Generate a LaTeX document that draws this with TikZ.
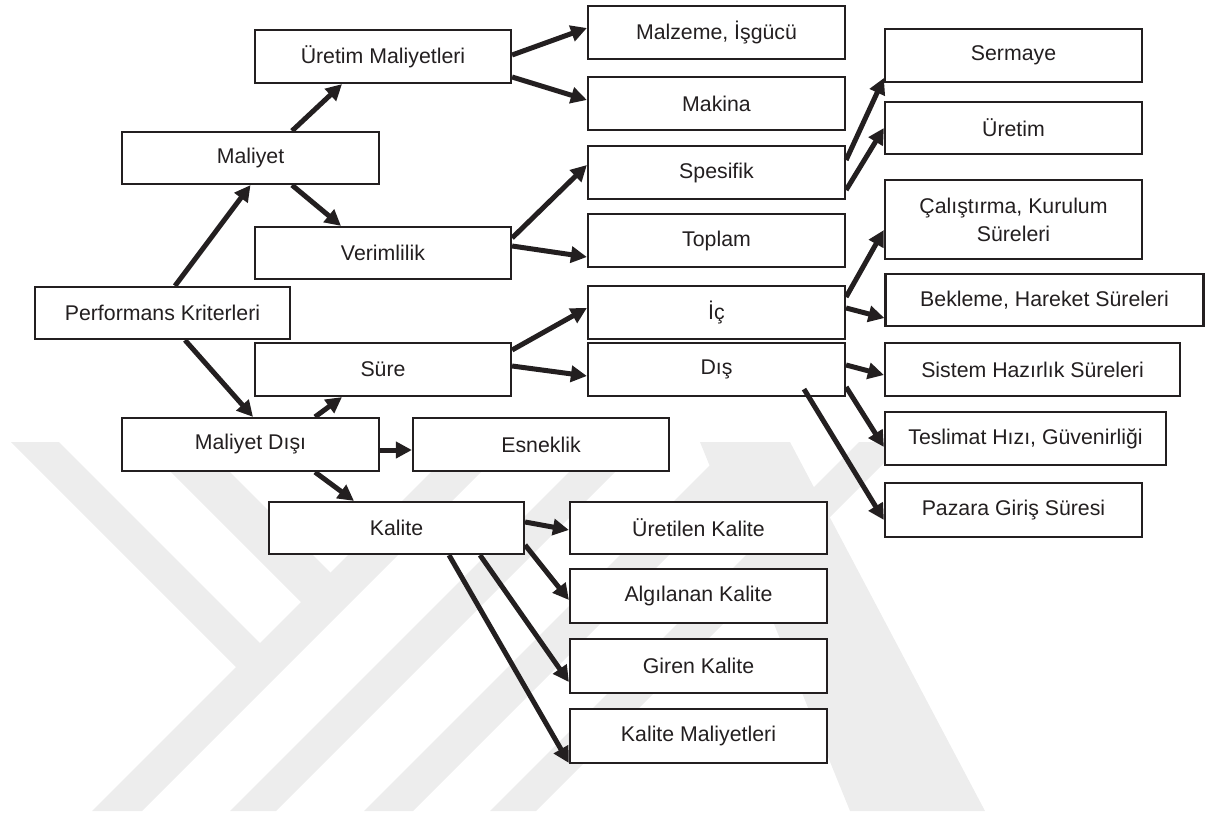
\documentclass[tikz,border=0pt]{standalone}
\usepackage{fontspec}
\setmainfont{Liberation Sans}
\usetikzlibrary{arrows.meta}
\definecolor{ink}{HTML}{231F20}
\definecolor{wm}{HTML}{EDEDED}
\begin{document}
\begin{tikzpicture}[x=1pt,y=-1pt,
  box/.style={draw=ink, line width=2.2pt, fill=white, text=ink,
    font=\fontsize{21.3}{28}\selectfont, align=center, inner sep=0pt,
    minimum height=53pt, minimum width=257pt},
  link/.style={draw=ink, line width=5pt, -{Triangle[length=16pt,width=16pt]}},
  wmark/.style={fill=wm, draw=none}]
\useasboundingbox (0,0) rectangle (1206,813);

% faint background logo
\fill[wmark] (11,442) -- (59,442) -- (261,644) -- (237,668) -- cycle;
\fill[wmark] (141,442) -- (200,442) -- (331.5,573.5) -- (302,603) -- cycle;
\fill[wmark] (92,811) -- (142,811) -- (511,442) -- (461,442) -- cycle;
\fill[wmark] (230,811) -- (276,811) -- (645,442) -- (599,442) -- cycle;
\fill[wmark] (364,811) -- (413,811) -- (782,442) -- (733,442) -- cycle;
\fill[wmark] (490,811) -- (536,811) -- (905,442) -- (859,442) -- cycle;
\fill[wmark] (700,442) -- (790,442) -- (985,811) -- (850,811) -- cycle;

% boxes
\node[box, minimum width=255pt, minimum height=52pt] (perf) at (162.5,313) {Performans Kriterleri};
\node[box, minimum height=52pt] (maliyet) at (250.5,158) {Maliyet};
\node[box, minimum width=256pt] (uretimM) at (383,56.5) {Üretim Maliyetleri};
\node[box, minimum width=256pt, minimum height=52pt] (verim) at (383,253) {Verimlilik};
\node[box, minimum width=256pt] (sure) at (383,369.5) {Süre};
\node[box] (mdisi) at (250.5,444.5) {Maliyet Dışı};
\node[box, minimum width=256pt] (esnek) at (541,444.5) {Esneklik};
\node[box, minimum width=255pt, minimum height=52pt] (kalite) at (396.5,528) {Kalite};

\node[box] (malzeme) at (716.5,32.5) {Malzeme, İşgücü};
\node[box] (makina) at (716.5,103.5) {Makina};
\node[box] (spesifik) at (716.5,172.5) {Spesifik};
\node[box] (toplam) at (716.5,240.5) {Toplam};
\node[box] (ic) at (716.5,312.5) {İç};
\node[box] (dis) at (716.5,369.5) {Dış};

\node[box] (sermaye) at (1013.5,55.5) {Sermaye};
\node[box, minimum height=52pt] (uretim) at (1013.5,128) {Üretim};
\node[box, minimum height=79pt] (calis) at (1013.5,219.5) {Çalıştırma, Kurulum\\Süreleri};
\node[box, minimum width=318pt, minimum height=52pt] (bekleme) at (1044.5,300) {Bekleme, Hareket Süreleri};
\node[box, minimum width=295pt] (sistem) at (1032.5,369.5) {Sistem Hazırlık Süreleri};
\node[box, minimum width=281pt] (teslimat) at (1025.5,438.5) {Teslimat Hızı, Güvenirliği};
\node[box, minimum height=54pt] (pazara) at (1013.5,510) {Pazara Giriş Süresi};

\node[box, minimum height=52pt] (uretilen) at (698.5,528) {Üretilen Kalite};
\node[box, minimum height=54pt] (algilanan) at (698.5,596) {Algılanan Kalite};
\node[box, minimum height=54pt] (giren) at (698.5,666) {Giren Kalite};
\node[box, minimum height=54pt] (kmal) at (698.5,736) {Kalite Maliyetleri};

% connectors
\draw[link] ([xshift=12.5pt]perf.north) -- (maliyet.south);
\draw[link] ([xshift=22.5pt]perf.south) -- ([xshift=2.5pt]mdisi.north);
\draw[link] ([xshift=41.5pt]maliyet.north) -- ([xshift=-41pt]uretimM.south);
\draw[link] ([xshift=41.5pt]maliyet.south) -- ([xshift=-42pt]verim.north);
\draw[link] ([xshift=64.5pt]mdisi.north) -- ([xshift=-41pt]sure.south);
\draw[link] ([yshift=-5.5pt]mdisi.east) -- ([yshift=-5.5pt]esnek.west);
\draw[link] ([xshift=64.5pt]mdisi.south) -- ([xshift=-42.5pt]kalite.north);

\draw[link] ([yshift=1.5pt]uretimM.east) -- ([yshift=4.5pt]malzeme.west);
\draw[link] ([yshift=-20.5pt]uretimM.east) -- ([yshift=3.5pt]makina.west);
\draw[link] ([yshift=15pt]verim.east) -- ([yshift=7.5pt]spesifik.west);
\draw[link] ([yshift=7pt]verim.east) -- ([yshift=-16.5pt]toplam.west);
\draw[link] ([yshift=19.5pt]sure.east) -- ([yshift=4.5pt]ic.west);
\draw[link] ([yshift=3.5pt]sure.east) -- ([yshift=-6.5pt]dis.west);

\draw[link] ([yshift=12.5pt]spesifik.east) -- ([yshift=-22.5pt]sermaye.west);
\draw[link] ([yshift=-17.5pt]spesifik.east) -- (uretim.west);
\draw[link] ([yshift=15.5pt]ic.east) -- ([yshift=-10.5pt]calis.west);
\draw[link] ([yshift=4.5pt]ic.east) -- ([yshift=-18pt]bekleme.west);
\draw[link] ([yshift=4.5pt]dis.east) -- ([yshift=-5.5pt]sistem.west);
\draw[link] ([yshift=-17.5pt]dis.east) -- ([yshift=-8.5pt]teslimat.west);
\draw[link] ([xshift=87.5pt,yshift=8pt]dis.south) -- ([yshift=-10pt]pazara.west);

\draw[link] ([yshift=6pt]kalite.east) -- ([yshift=-2pt]uretilen.west);
\draw[link] ([yshift=-17pt]kalite.east) -- ([yshift=-4pt]algilanan.west);
\draw[link] ([xshift=83.5pt]kalite.south) -- ([yshift=-16pt]giren.west);
\draw[link] ([xshift=52.5pt]kalite.south) -- ([yshift=-27pt]kmal.west);
\end{tikzpicture}
\end{document}
